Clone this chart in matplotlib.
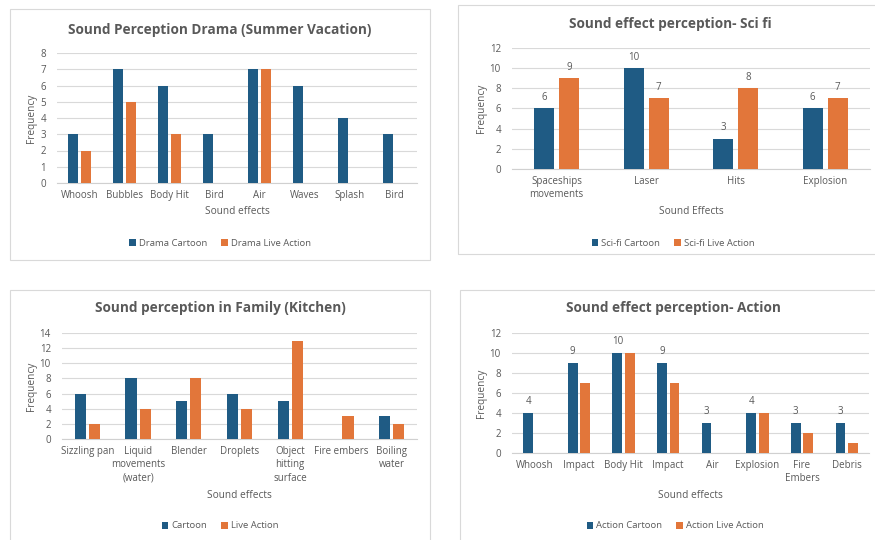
import numpy as np
import matplotlib
matplotlib.use('Agg')
import matplotlib.pyplot as plt
from matplotlib.patches import Rectangle

plt.rcParams['font.family'] = ['Open Sans', 'DejaVu Sans']

BLUE = '#1f5b84'
ORANGE = '#e2763a'
GREY = '#595959'

# Drama (summer vacation)
drama_cats = ['Whoosh', 'Bubbles', 'Body Hit', 'Bird', 'Air', 'Waves', 'Splash', 'Bird']
drama_cartoon = [3, 7, 6, 3, 7, 6, 4, 3]
drama_live = [2, 5, 3, 0, 7, 0, 0, 0]

# Sci fi
scifi_cats = ['Spaceships\nmovements', 'Laser', 'Hits', 'Explosion']
scifi_cartoon = [6, 10, 3, 6]
scifi_live = [9, 7, 8, 7]

# Family (kitchen)
family_cats = ['Sizzling pan', 'Liquid\nmovements\n(water)', 'Blender', 'Droplets',
               'Object\nhitting\nsurface', 'Fire embers', 'Boiling\nwater']
family_cartoon = [6, 8, 5, 6, 5, 0, 3]
family_live = [2, 4, 8, 4, 13, 3, 2]

# Action
action_cats = ['Whoosh', 'Impact', 'Body Hit', 'Impact', 'Air', 'Explosion', 'Fire\nEmbers', 'Debris']
action_cartoon = [4, 9, 10, 9, 3, 4, 3, 3]
action_live = [0, 7, 10, 7, 0, 4, 2, 1]

W, H = 875, 540
fig = plt.figure(figsize=(W / 100, H / 100), dpi=100)
fig.patch.set_facecolor('white')


def px_rect(x0, y0, x1, y1):
    # pixel box (top-left origin) -> figure fraction
    return [x0 / W, 1 - y1 / H, (x1 - x0) / W, (y1 - y0) / H]


def frame(x0, y0, x1, y1):
    r = Rectangle((x0 / W, 1 - y1 / H), (x1 - x0) / W, (y1 - y0) / H,
                  transform=fig.transFigure, fill=False, edgecolor='#d9d9d9', lw=0.8)
    fig.patches.append(r)


def panel(box, cats, cartoon, live, ymax, ystep, title, title_xy, xlabel, xlabel_y,
          labels, legend_xy, ylabel_x, value_labels=None):
    ax = fig.add_axes(px_rect(*box))
    x = np.arange(len(cats))
    bw = 0.22
    off = 0.14
    b1 = ax.bar(x - off, cartoon, bw, color=BLUE, label=labels[0], zorder=3)
    b2 = ax.bar(x + off, live, bw, color=ORANGE, label=labels[1], zorder=3)
    ax.set_xlim(-0.5, len(cats) - 0.5)
    ax.set_ylim(0, ymax)
    ax.set_yticks(np.arange(0, ymax + 1, ystep))
    ax.set_xticks(x)
    ax.set_xticklabels(cats, fontsize=7, color=GREY, linespacing=1.3)
    ax.tick_params(axis='y', labelsize=7, labelcolor=GREY, length=0, pad=8)
    ax.tick_params(axis='x', length=0, pad=5)
    ax.grid(axis='y', color='#d9d9d9', lw=0.8, zorder=0)
    for s in ['top', 'right', 'left']:
        ax.spines[s].set_visible(False)
    ax.spines['bottom'].set_color('#d0d0d0')
    ax.spines['bottom'].set_linewidth(0.8)
    if value_labels == 'both':
        ax.bar_label(b1, fontsize=7, color=GREY, padding=4)
        ax.bar_label(b2, fontsize=7, color=GREY, padding=4)
    elif value_labels == 'cartoon':
        ax.bar_label(b1, fontsize=7, color=GREY, padding=4)
    fig.text(title_xy[0] / W, 1 - title_xy[1] / H, title, ha='center', va='center',
             fontsize=9.8, fontweight='bold', color=GREY)
    fig.text((box[0] + box[2]) / 2 / W, 1 - xlabel_y / H, xlabel, ha='center',
             va='center', fontsize=7.3, color=GREY)
    fig.text(ylabel_x / W, 1 - (box[1] + box[3]) / 2 / H, 'Frequency', ha='center',
             va='center', rotation=90, fontsize=7.3, color=GREY)
    fig.legend(handles=[b1, b2], loc='center',
               bbox_to_anchor=(legend_xy[0] / W, 1 - legend_xy[1] / H), ncol=2,
               frameon=False, fontsize=6.8, labelcolor=GREY, handlelength=0.7,
               handleheight=0.7, handletextpad=0.3, columnspacing=1.5)
    return ax


frame(10, 9, 430, 260)
frame(458, 5, 900, 254)
frame(10, 290, 430, 560)
frame(460, 290, 900, 560)

panel((57, 53, 417, 183), drama_cats, drama_cartoon, drama_live, 8, 1,
      'Sound Perception Drama (Summer Vacation)', (220, 30), 'Sound effects', 212,
      ['Drama Cartoon', 'Drama Live Action'], (220, 243), 32)

panel((512, 48, 870, 169), scifi_cats, scifi_cartoon, scifi_live, 12, 2,
      'Sound effect perception- Sci fi', (670, 24), 'Sound Effects', 212,
      ['Sci-fi Cartoon', 'Sci-fi Live Action'], (673, 243), 481, value_labels='both')

panel((62, 333, 417, 439), family_cats, family_cartoon, family_live, 14, 2,
      'Sound perception in Family (Kitchen)', (220, 308), 'Sound effects', 495,
      ['Cartoon', 'Live Action'], (220, 526), 31)

panel((512, 333, 869, 453), action_cats, action_cartoon, action_live, 12, 2,
      'Sound effect perception- Action', (673, 308), 'Sound effects', 495,
      ['Action Cartoon', 'Action Live Action'], (675, 526), 481, value_labels='cartoon')

fig.savefig('out.png', dpi=100)
